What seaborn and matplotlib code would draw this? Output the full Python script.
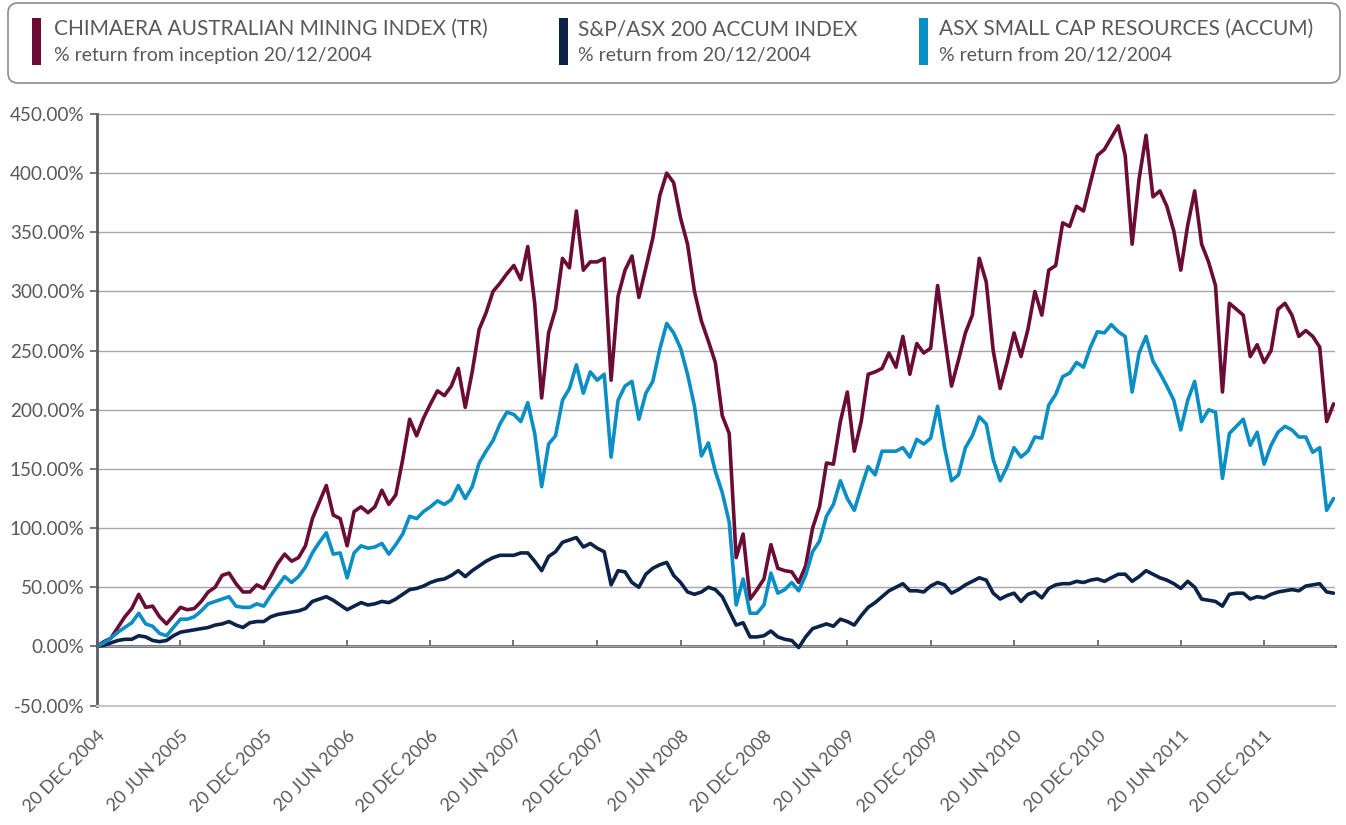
import matplotlib
import matplotlib.pyplot as plt
import matplotlib.dates as mdates
import pandas as pd
import seaborn as sns
from matplotlib.patches import FancyBboxPatch, Rectangle
from matplotlib.ticker import FixedLocator, FuncFormatter, NullFormatter

matplotlib.use("Agg")

# half-monthly readings from 20/12/2004 to 20/05/2012 (% return)
START_DATE = "2004-12-20"
END_DATE = "2012-05-20"
AXIS_END = "2012-05-23"

SERIES_NAMES = [
    "CHIMAERA AUSTRALIAN MINING INDEX (TR)",
    "S&P/ASX 200 ACCUM INDEX",
    "ASX SMALL CAP RESOURCES (ACCUM)",
]
SERIES_SUBTITLES = [
    "% return from inception 20/12/2004",
    "% return from 20/12/2004",
    "% return from 20/12/2004",
]
SERIES_COLORS = ["#6a0c35", "#0b2249", "#0a8ec6"]

MINING = [
    0, 4, 7, 16, 25, 32, 44, 33, 34, 25, 19, 26, 33, 31, 32, 38, 46, 50, 60, 62,
    53, 46, 46, 52, 49, 59, 70, 78, 72, 75, 85, 108, 122,
    136, 111, 108, 85, 114, 118, 113, 118, 132, 120, 128, 158, 192, 178, 193, 205,
    216, 212, 220, 235, 202, 232, 268, 282, 300, 307, 315, 322, 310, 338, 290,
    210, 265, 285, 328, 320, 368, 318, 325, 325, 328, 225, 296, 318, 330, 295, 320,
    345, 381, 400, 392, 362, 340, 300, 275, 258, 240, 195, 180, 75, 95, 40, 48,
    57, 86, 66, 64, 63, 54, 68, 100, 118, 155, 154, 190, 215, 165, 190, 230, 232,
    235, 248, 236, 262, 230, 256, 248, 252, 305, 262, 220, 242, 265, 280, 328,
    308, 250, 218, 240, 265, 245, 268, 300, 280, 318, 322, 358, 355, 372, 368, 392,
    415, 420, 430, 440, 415, 340, 395, 432, 380, 385, 372, 351, 318, 356, 385,
    340, 325, 305, 215, 290, 285, 280, 245, 255, 240, 250, 285, 290, 280, 262, 267,
    262, 253, 190, 205,
]

ASX200 = [
    0, 1, 3, 5, 6, 6, 9, 8, 5, 4, 5, 9, 12, 13, 14, 15, 16, 18, 19, 21, 18, 16, 20,
    21, 21, 25, 27, 28, 29, 30, 32, 38, 40,
    42, 39, 35, 31, 34, 37, 35, 36, 38, 37, 40, 44, 48, 49, 51, 54, 56, 57, 60, 64,
    59, 64, 68, 72, 75, 77, 77, 77, 79, 79, 72,
    64, 76, 80, 88, 90, 92, 84, 87, 83, 80, 52, 64, 63, 54, 50, 61, 66, 69, 71, 60,
    54, 46, 44, 46, 50, 48, 42, 30, 18, 20, 8, 8,
    9, 13, 8, 6, 5, -1, 8, 15, 17, 19, 17, 23, 21, 18, 26, 33, 37, 42, 47, 50, 53,
    47, 47, 46, 51, 54, 52, 45, 48, 52, 55, 58,
    56, 45, 40, 43, 45, 38, 44, 46, 41, 49, 52, 53, 53, 55, 54, 56, 57, 55, 58, 61,
    61, 55, 59, 64, 61, 58, 56, 53, 49, 55, 50,
    40, 39, 38, 34, 44, 45, 45, 40, 42, 41, 44, 46, 47, 48, 47, 51, 52, 53, 46, 45,
]

SMALL_RESOURCES = [
    0, 3, 7, 12, 16, 20, 28, 19, 17, 11, 9, 16, 23, 23, 25, 30, 36, 38, 40, 42, 34,
    33, 33, 36, 34, 43, 51, 59, 54, 59, 67, 79, 88,
    96, 78, 79, 58, 79, 85, 83, 84, 87, 78, 86, 95, 110, 108, 114, 118, 123, 120,
    124, 136, 125, 135, 155, 165, 174, 188, 198, 196, 190, 206, 180,
    135, 171, 178, 208, 218, 238, 214, 232, 225, 230, 160, 208, 220, 224, 192, 214,
    224, 251, 273, 265, 252, 230, 203, 161, 172, 148, 130, 105, 35, 57, 28, 28,
    35, 62, 45, 48, 54, 47, 60, 80, 89, 110, 120, 140, 125, 115, 134, 152, 145, 165,
    165, 165, 168, 160, 175, 171, 176, 203, 168, 140, 145, 168, 178, 194,
    188, 158, 140, 152, 168, 160, 165, 177, 176, 204, 213, 228, 231, 240, 236, 253,
    266, 265, 272, 266, 262, 215, 248, 262, 241, 231, 220, 208, 183, 208, 224,
    190, 200, 198, 142, 180, 186, 192, 170, 181, 154, 170, 181, 186, 183, 177, 177,
    164, 168, 115, 125,
]

Y_TICKS = list(range(-50, 451, 50))
TEXT_COLOR = "#58595b"


def px_box(x, y, w, h):
    # reference pixel box (top-left origin) -> inches from bottom-left
    return x / 100, (825 - y - h) / 100, w / 100, h / 100


def main() -> None:
    sns.set_theme(style="white")
    plt.rcParams["font.family"] = ["Lato", "DejaVu Sans"]

    dates = pd.date_range(START_DATE, END_DATE, periods=len(MINING))
    frames = []
    for name, values in zip(SERIES_NAMES, [MINING, ASX200, SMALL_RESOURCES]):
        frames.append(pd.DataFrame({"date": dates, "series": name, "value": values}))
    df = pd.concat(frames, ignore_index=True)

    fig = plt.figure(figsize=(13.46, 8.25), dpi=100)
    ax = fig.add_axes([0.0721, 0.1448, 0.9197, 0.717])

    sns.lineplot(
        data=df,
        x="date",
        y="value",
        hue="series",
        hue_order=SERIES_NAMES,
        palette=dict(zip(SERIES_NAMES, SERIES_COLORS)),
        linewidth=2.6,
        estimator=None,
        legend=False,
        ax=ax,
    )

    ax.set_ylim(-50, 450)
    ax.set_yticks(Y_TICKS)
    ax.yaxis.set_major_formatter(FuncFormatter(lambda v, _: f"{v:.2f}%"))
    ax.set_xlim(pd.Timestamp(START_DATE), pd.Timestamp(AXIS_END))

    tick_dates = [pd.Timestamp(START_DATE) + pd.DateOffset(months=6 * i) for i in range(15)]
    tick_nums = mdates.date2num(tick_dates)
    ax.xaxis.set_major_locator(FixedLocator(tick_nums))
    ax.set_xticklabels(
        [d.strftime("%d %b %Y").upper() for d in tick_dates],
        rotation=45,
        ha="right",
        rotation_mode="anchor",
    )
    ax.set_xlabel("")
    ax.set_ylabel("")

    ax.tick_params(axis="x", length=0, pad=16, labelsize=13, labelcolor=TEXT_COLOR)
    ax.tick_params(axis="y", length=5, width=1.2, color="#5b5d66", direction="out",
                   labelsize=13.6, labelcolor=TEXT_COLOR, pad=4, left=True)

    ax.yaxis.grid(True, color="#a8a8a8", linewidth=1)
    ax.xaxis.grid(False)
    ax.set_axisbelow(True)
    for side in ["top", "right"]:
        ax.spines[side].set_visible(False)
    ax.spines["left"].set_color("#5b5d66")
    ax.spines["left"].set_linewidth(2)
    ax.spines["bottom"].set_color("#c8c8c8")
    ax.spines["bottom"].set_linewidth(1.5)

    # zero line with its own tick marks
    zero_axis = ax.secondary_xaxis(0.1)
    zero_axis.xaxis.set_major_locator(FixedLocator(tick_nums))
    zero_axis.xaxis.set_major_formatter(NullFormatter())
    zero_axis.tick_params(direction="in", length=4, width=1.2, color="#5b5d66")
    zero_axis.spines["bottom"].set_color("#5b5d66")
    zero_axis.spines["bottom"].set_linewidth(2)

    # legend panel
    inch = fig.dpi_scale_trans
    bx, by, bw, bh = px_box(8, 3, 1332, 80)
    fig.add_artist(FancyBboxPatch(
        (bx, by), bw, bh, boxstyle="round,pad=0,rounding_size=0.1",
        transform=inch, facecolor="white", edgecolor="#8c8c8c", linewidth=1.2,
    ))
    bar_x = [32, 559, 919]
    text_x = [53.5, 578.5, 939]
    for name, sub, color, bxp, txp in zip(SERIES_NAMES, SERIES_SUBTITLES, SERIES_COLORS,
                                           bar_x, text_x):
        rx, ry, rw, rh = px_box(bxp, 18, 9, 47)
        fig.add_artist(Rectangle((rx, ry), rw, rh, transform=inch,
                                 facecolor=color, edgecolor="none"))
        fig.text(txp / 100, (825 - 35) / 100, name, transform=inch,
                 fontsize=15, color=TEXT_COLOR, va="baseline")
        fig.text(txp / 100, (825 - 61.5) / 100, sub, transform=inch,
                 fontsize=14, color=TEXT_COLOR, va="baseline")

    fig.savefig("out.png", dpi=100)
    plt.close(fig)


if __name__ == "__main__":
    main()
